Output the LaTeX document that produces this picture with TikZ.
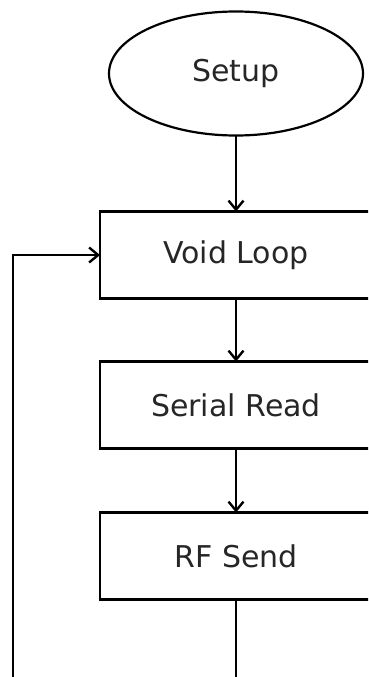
\documentclass[tikz,border=0pt]{standalone}
\usepackage{fontspec}
\setmainfont{DejaVu Sans}
\usepackage{tikz}
\usetikzlibrary{shapes.geometric,positioning,arrows.meta}
\tikzset{
  startstop/.style={ellipse, draw=black, line width=2.2pt, minimum width=254pt, minimum height=124pt, inner sep=0pt, outer sep=0pt, font=\fontsize{30}{35}\selectfont, text=black!85},
  process/.style={rectangle, draw=black, line width=2.5pt, minimum width=272pt, minimum height=87pt, inner sep=0pt, outer sep=0pt, font=\fontsize{30}{35}\selectfont, text=black!85},
  arrow/.style={-{Straight Barb[length=9pt,width=15pt]}, draw=black, line width=2.4pt},
  flow/.style={draw=black, line width=2.4pt}
}
\begin{document}
\begin{tikzpicture}
  \useasboundingbox (0,0) rectangle (368pt,-677pt);
  \clip (0,0) rectangle (368pt,-677pt);

  \node[startstop] (setup) at (236pt,-73.5pt) {Setup};
  \node[process, below=76pt of setup] (voidloop) {Void Loop};
  \node[process, below=63pt of voidloop] (serialread) {Serial Read};
  \node[process, below=64pt of serialread] (rfsend) {RF Send};

  \draw[arrow] (setup) -- (voidloop);
  \draw[arrow] (voidloop) -- (serialread);
  \draw[arrow] (serialread) -- (rfsend);

  % loop back to the start of Void Loop
  \coordinate (back) at (13pt,-720pt);
  \draw[flow] (rfsend.south) |- (back);
  \draw[arrow] (back) |- (voidloop.west);
\end{tikzpicture}
\end{document}
